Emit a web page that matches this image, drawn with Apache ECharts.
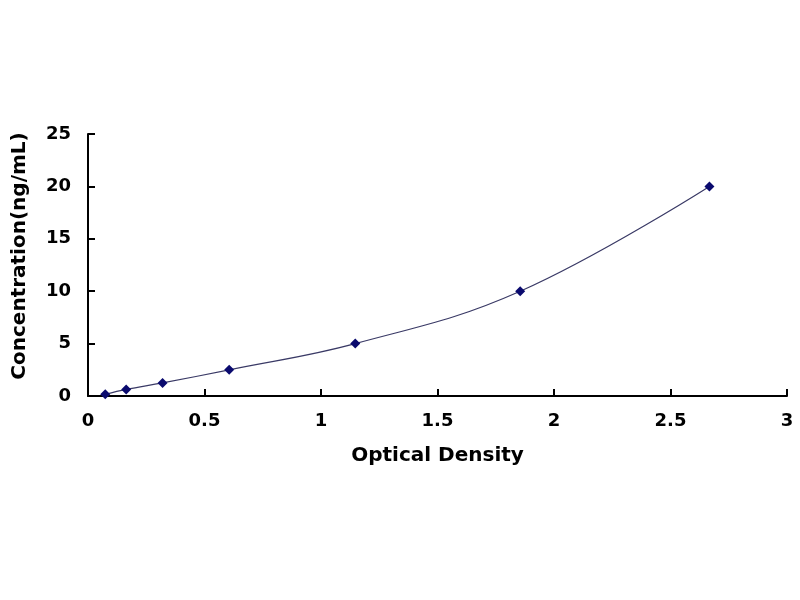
<!DOCTYPE html>
<html>
<head>
<meta charset="utf-8">
<script src="https://cdn.jsdelivr.net/npm/echarts@6/dist/echarts.min.js"></script>
<style>
  html, body { margin: 0; padding: 0; background: #fff; }
  #chart { width: 800px; height: 600px; }
</style>
</head>
<body>
<div id="chart"></div>
<script>
// standard curve: optical density vs concentration
const opticalDensity = [0.074, 0.164, 0.32, 0.606, 1.147, 1.855, 2.667];
const concentration = [0.156, 0.625, 1.25, 2.5, 5, 10, 20];

const chart = echarts.init(document.getElementById('chart'));

const font = 'DejaVu Sans, Verdana, sans-serif';

chart.setOption({
    animation: false,
    grid: { left: 88, right: 13, top: 134, bottom: 204 },
    xAxis: {
        type: 'value',
        min: 0,
        max: 3,
        interval: 0.5,
        name: 'Optical Density',
        nameLocation: 'middle',
        nameGap: 50,
        nameTextStyle: { fontFamily: font, fontWeight: 'bold', fontSize: 20, color: '#000' },
        axisLine: { lineStyle: { color: '#000', width: 2 } },
        axisTick: { inside: true, length: 7, lineStyle: { color: '#000', width: 2 } },
        axisLabel: { fontFamily: font, fontWeight: 'bold', fontSize: 18, color: '#000', margin: 16 },
        splitLine: { show: false }
    },
    yAxis: {
        type: 'value',
        min: 0,
        max: 25,
        interval: 5,
        name: 'Concentration(ng/mL)',
        nameLocation: 'middle',
        nameGap: 58,
        // nudge the title a bit upward like the original
        nameTextStyle: { fontFamily: font, fontWeight: 'bold', fontSize: 20, color: '#000', padding: [0, 0, 0, 18] },
        axisLine: { show: true, lineStyle: { color: '#000', width: 2 } },
        axisTick: { show: true, inside: true, length: 7, lineStyle: { color: '#000', width: 2 } },
        axisLabel: { fontFamily: font, fontWeight: 'bold', fontSize: 18, color: '#000', margin: 17 },
        splitLine: { show: false }
    },
    series: [{
        type: 'line',
        data: opticalDensity.map((x, i) => [x, concentration[i]]),
        smooth: 0.4,
        symbol: 'diamond',
        symbolSize: 10,
        itemStyle: { color: '#0a0a6e' },
        lineStyle: { color: '#3a3a66', width: 1.2 }
    }]
});
</script>
</body>
</html>
